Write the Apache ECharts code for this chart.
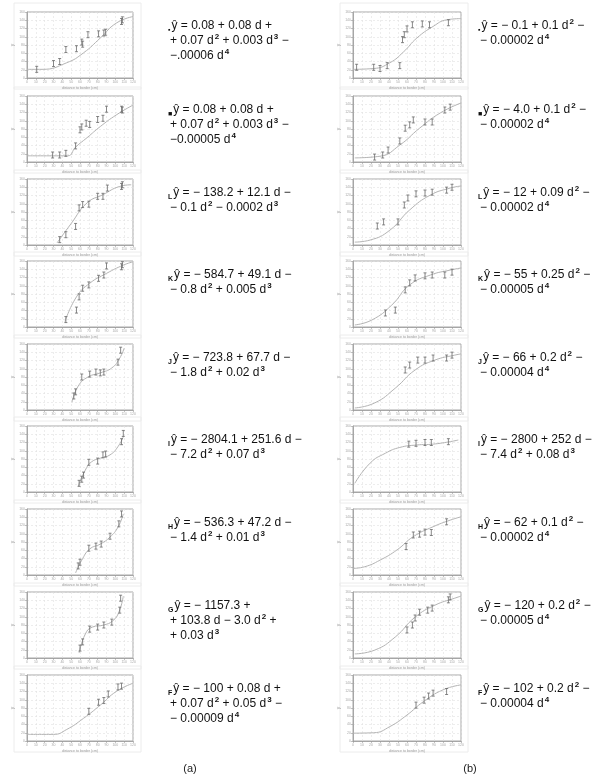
<!DOCTYPE html>
<html><head><meta charset="utf-8">
<script src="https://cdn.jsdelivr.net/npm/echarts@6/dist/echarts.min.js"></script>
<style>html,body{margin:0;padding:0;background:#fff}#c{width:601px;height:778px}</style>
</head><body><div id="c"></div>
<script>
// ---- data (x: distance, y: response) ----
const xTicks = [0,10,20,30,40,50,60,70,80,90,100,110,120];
const yTicks = [0,20,40,60,80,100,120,140,160];

const a1Pts = [[11,21],[30,35],[37,40],[44,69],[56,71],[62,87],[63,82],[69,105],[81,107],[87,109],[89,111],[107,137],[108,141]];
const a1Curve = [[0,21],[17,21],[45,37],[64,61],[83,97],[101,133],[120,149]];
const a2Pts = [[29,17],[37,17],[44,21],[55,39],[60,78],[62,85],[67,94],[71,91],[80,103],[86,106],[90,128],[107,128],[108,126]];
const a2Curve = [[0,15],[46,15],[55,36],[68,59],[83,86],[101,114],[120,138]];
const a3Pts = [[37,13],[44,25],[55,45],[59,90],[63,98],[70,99],[80,118],[86,118],[91,138],[107,142],[108,146]];
const a3Curve = [[34,5],[50,52],[68,102],[86,122],[105,142],[118,146]];
const a4Pts = [[44,18],[56,41],[59,73],[63,94],[70,102],[81,118],[87,126],[90,148],[107,146],[108,151]];
const a4Curve = [[43,13],[56,73],[71,106],[90,130],[109,150],[120,158]];
const a5Pts = [[53,34],[55,44],[62,80],[71,87],[78,92],[83,90],[87,92],[103,116],[106,145]];
const a5Curve = [[51,19],[58,58],[69,80],[83,90],[96,102],[105,126],[110,150]];
const a6Pts = [[59,21],[62,31],[64,41],[70,72],[80,75],[86,90],[89,92],[107,122],[109,142]];
const a6Curve = [[58,14],[66,53],[73,73],[83,82],[94,90],[103,110],[109,134]];
const a7Pts = [[58,22],[60,31],[70,65],[78,70],[84,75],[94,94],[104,124],[107,148]];
const a7Curve = [[55,5],[62,36],[71,63],[83,75],[94,92],[103,116],[109,148]];
const a8Pts = [[60,24],[63,39],[71,70],[80,75],[87,80],[96,87],[105,116],[106,145]];
const a8Curve = [[59,12],[66,58],[74,75],[87,80],[97,90],[104,111],[109,150]];
const a9Pts = [[70,72],[81,94],[87,98],[92,114],[103,131],[107,133]];
const a9Curve = [[0,16],[30,16],[45,28],[64,55],[83,87],[101,120],[120,140]];

const b1Pts = [[4,26],[23,26],[30,23],[38,30],[52,30],[55,93],[57,105],[60,119],[66,129],[77,131],[85,129],[106,134]];
const b1Curve = [[0,21],[23,23],[41,37],[56,63],[71,97],[89,125],[104,141],[120,144]];
const b2Pts = [[24,12],[33,17],[39,29],[52,51],[58,82],[63,90],[67,102],[80,97],[88,97],[102,126],[108,133]];
const b2Curve = [[2,10],[30,14],[52,41],[74,82],[97,119],[120,143]];
const b3Pts = [[27,46],[34,56],[50,56],[57,97],[61,114],[70,124],[80,126],[88,128],[104,133],[110,140]];
const b3Curve = [[2,7],[19,12],[41,36],[63,85],[86,121],[108,138],[120,143]];
const b4Pts = [[36,34],[47,41],[58,90],[63,107],[69,119],[80,124],[88,126],[102,126],[110,133]];
const b4Curve = [[2,5],[21,17],[43,53],[63,102],[86,126],[108,138],[120,143]];
const b5Pts = [[58,97],[63,109],[72,121],[80,121],[89,126],[104,126],[110,133]];
const b5Curve = [[2,5],[24,17],[47,53],[69,97],[91,121],[113,133],[120,136]];
const b6Pts = [[62,116],[70,118],[80,120],[87,120],[106,122]];
const b6Curve = [[2,21],[19,70],[36,94],[52,108],[71,114],[89,116],[117,126]];
const b7Pts = [[59,69],[67,97],[74,99],[80,104],[87,103],[104,129]];
const b7Curve = [[0,16],[13,20],[30,36],[49,61],[67,93],[89,117],[108,133],[120,141]];
const b8Pts = [[60,68],[66,80],[69,97],[74,111],[83,116],[88,121],[106,141],[108,148]];
const b8Curve = [[2,10],[24,19],[47,51],[69,99],[91,128],[113,145],[120,150]];
const b9Pts = [[70,87],[79,99],[84,109],[89,116],[104,120]];
const b9Curve = [[0,19],[23,20],[41,35],[60,63],[78,95],[100,124],[120,136]];

const subMarks = ['▪','■','L','K','J','I','H','G','F'];
const eqA = [
  ['ŷ = 0.08 + 0.08 d +','+ 0.07 d² + 0.003 d³ −','−.00006 d⁴'],
  ['ŷ = 0.08 + 0.08 d +','+ 0.07 d² + 0.003 d³ −','−0.00005 d⁴'],
  ['ŷ = − 138.2 + 12.1 d −','− 0.1 d² − 0.0002 d³'],
  ['ŷ = − 584.7 + 49.1 d −','− 0.8 d² + 0.005 d³'],
  ['ŷ = − 723.8 + 67.7 d −','− 1.8 d² + 0.02 d³'],
  ['ŷ = − 2804.1 + 251.6 d −','− 7.2 d² + 0.07 d³'],
  ['ŷ = − 536.3 + 47.2 d −','− 1.4 d² + 0.01 d³'],
  ['ŷ = − 1157.3 +','+ 103.8 d − 3.0 d² +','+ 0.03 d³'],
  ['ŷ = − 100 + 0.08 d +','+ 0.07 d² + 0.05 d³ −','− 0.00009 d⁴']
];
const eqB = [
  ['ŷ = − 0.1 + 0.1 d² −','− 0.00002 d⁴'],
  ['ŷ = − 4.0 + 0.1 d² −','− 0.00002 d⁴'],
  ['ŷ = − 12 + 0.09 d² −','− 0.00002 d⁴'],
  ['ŷ = − 55 + 0.25 d² −','− 0.00005 d⁴'],
  ['ŷ = − 66 + 0.2 d² −','− 0.00004 d⁴'],
  ['ŷ = − 2800 + 252 d −','− 7.4 d² + 0.08 d³'],
  ['ŷ = − 62 + 0.1 d² −','− 0.00002 d⁴'],
  ['ŷ = − 120 + 0.2 d² −','− 0.00005 d⁴'],
  ['ŷ = − 102 + 0.2 d² −','− 0.00004 d⁴']
];
const captions = ['(a)','(b)'];
const xName = 'distance to border (cm)';
const yName = 'y';

// ---- layout ----
const ptsA = [a1Pts,a2Pts,a3Pts,a4Pts,a5Pts,a6Pts,a7Pts,a8Pts,a9Pts];
const crvA = [a1Curve,a2Curve,a3Curve,a4Curve,a5Curve,a6Curve,a7Curve,a8Curve,a9Curve];
const ptsB = [b1Pts,b2Pts,b3Pts,b4Pts,b5Pts,b6Pts,b7Pts,b8Pts,b9Pts];
const crvB = [b1Curve,b2Curve,b3Curve,b4Curve,b5Curve,b6Curve,b7Curve,b8Curve,b9Curve];
const rowTops = [12,96,179,261,344,426,509,592,675];
const gridH = 66;
const cols = [
  {left:27, width:106, eqX:168, cardX:14, cardW:127, pts:ptsA, crv:crvA, eq:eqA},
  {left:353, width:108, eqX:478, cardX:340, cardW:128, pts:ptsB, crv:crvB, eq:eqB}
];

const grids=[], xAxes=[], yAxes=[], series=[], graphics=[];
const supMap = {'²':'2','³':'3','⁴':'4'};
function toRich(s){
  return s.replace(/ŷ/,'{v|ŷ}').replace(/[²³⁴]/g, m => '{s|'+supMap[m]+'}');
}
function errBar(params, api){
  const p = api.coord([api.value(0), api.value(1)]);
  const h = 3, w = 1.5;
  const st = {stroke:'#6a6a6a', lineWidth:0.8};
  return {type:'group', children:[
    {type:'line', shape:{x1:p[0],y1:p[1]-h,x2:p[0],y2:p[1]+h}, style:st},
    {type:'line', shape:{x1:p[0]-w,y1:p[1]-h,x2:p[0]+w,y2:p[1]-h}, style:st},
    {type:'line', shape:{x1:p[0]-w,y1:p[1]+h,x2:p[0]+w,y2:p[1]+h}, style:st}
  ]};
}
let gi = 0;
cols.forEach((c, ci) => {
  rowTops.forEach((top, r) => {
    grids.push({left:c.left, top:top, width:c.width, height:gridH, show:true,
      borderColor:'#a8a8a8', borderWidth:1, backgroundColor:'#fff'});
    xAxes.push({gridIndex:gi, type:'value', min:0, max:120, interval:10,
      name:xName, nameLocation:'middle', nameGap:8,
      nameTextStyle:{fontSize:3.5, color:'#999'},
      axisLine:{show:true, lineStyle:{color:'#999', width:0.8}},
      axisTick:{show:true, length:2, lineStyle:{color:'#999', width:0.6}},
      axisLabel:{fontSize:3.5, color:'#aaa', margin:2},
      splitLine:{show:true, lineStyle:{color:'#e2e2e2', width:0.6, type:[2,2]}}});
    yAxes.push({gridIndex:gi, type:'value', min:0, max:160, interval:20,
      name:yName, nameLocation:'middle', nameGap:9,
      nameTextStyle:{fontSize:5, color:'#999'},
      axisLine:{show:true, lineStyle:{color:'#999', width:0.8}},
      axisTick:{show:true, length:2, lineStyle:{color:'#999', width:0.6}},
      axisLabel:{fontSize:3.5, color:'#aaa', margin:2},
      splitLine:{show:true, lineStyle:{color:'#e2e2e2', width:0.6, type:[2,2]}}});
    series.push({type:'line', xAxisIndex:gi, yAxisIndex:gi, data:c.crv[r], smooth:0.5,
      showSymbol:false, symbol:'none', lineStyle:{color:'#b4b4b4', width:1}, silent:true, z:2});
    series.push({type:'custom', xAxisIndex:gi, yAxisIndex:gi, data:c.pts[r],
      renderItem:errBar, silent:true, z:3});
    graphics.push({type:'rect', shape:{x:c.cardX, y:top-9, width:c.cardW, height:gridH+20},
      style:{fill:'none', stroke:'#ececec', lineWidth:1}, z:-1});
    c.eq[r].forEach((line, li) => {
      const txt = (li===0 ? '{p|'+subMarks[r]+'}' : '') + toRich(line);
      graphics.push({type:'text', x:c.eqX + (li===0?0:2), y:top+6+li*15,
        style:{text:txt, fill:'#111', font:'12px "Liberation Sans", Arial, sans-serif',
          verticalAlign:'top', lineHeight:16,
          rich:{
            v:{fontSize:12, fontFamily:'Liberation Sans', fill:'#111', lineHeight:16},
            s:{fontSize:8, fontFamily:'Liberation Sans', fill:'#111', fontWeight:'bold', lineHeight:5, verticalAlign:'top', padding:[0,0,0,1]},
            p:{fontSize:7, fontFamily:'Liberation Sans', fill:'#111', fontWeight:'bold', lineHeight:6, verticalAlign:'bottom', padding:[0,1,0,0]}
          }}});
    });
    gi++;
  });
});
graphics.push({type:'text', x:190, y:769, style:{text:captions[0], fill:'#222', font:'11px "Liberation Sans", Arial', align:'center', verticalAlign:'middle'}});
graphics.push({type:'text', x:470, y:769, style:{text:captions[1], fill:'#222', font:'11px "Liberation Sans", Arial', align:'center', verticalAlign:'middle'}});

const chart = echarts.init(document.getElementById('c'), null, {renderer:'canvas'});
chart.setOption({
  animation:false, backgroundColor:'#fff',
  grid:grids, xAxis:xAxes, yAxis:yAxes, series:series, graphic:graphics
});
</script></body></html>
